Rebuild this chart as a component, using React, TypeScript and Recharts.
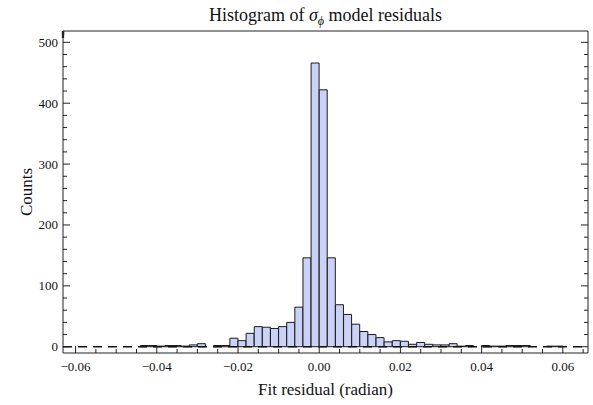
import React from "react";
import { BarChart, Bar, XAxis, YAxis, ReferenceLine } from "recharts";

// bin centers (bin width 0.002) and counts
const BIN_CENTERS = [
  -0.043, -0.041, -0.039, -0.037, -0.035, -0.033, -0.031, -0.029, -0.027, -0.025,
  -0.023, -0.021, -0.019, -0.017, -0.015, -0.013, -0.011, -0.009, -0.007, -0.005,
  -0.003, -0.001, 0.001, 0.003, 0.005, 0.007, 0.009, 0.011, 0.013, 0.015,
  0.017, 0.019, 0.021, 0.023, 0.025, 0.027, 0.029, 0.031, 0.033, 0.035,
  0.037, 0.039, 0.041, 0.043, 0.045, 0.047, 0.049, 0.051, 0.053, 0.055,
  0.057, 0.059,
];
const COUNTS = [
  2, 2, 1, 2, 2, 1, 3, 5, 0, 2,
  2, 14, 10, 22, 33, 32, 30, 33, 40, 65,
  146, 466, 422, 146, 69, 53, 37, 25, 20, 15,
  8, 10, 9, 4, 7, 4, 3, 3, 5, 1,
  2, 0, 2, 1, 1, 2, 2, 2, 0, 0,
  1, 1,
];

const X_MAJOR = [-0.06, -0.04, -0.02, 0, 0.02, 0.04, 0.06];
const X_MINOR = [
  -0.06, -0.055, -0.05, -0.045, -0.04, -0.035, -0.03, -0.025, -0.02, -0.015, -0.01, -0.005,
  0, 0.005, 0.01, 0.015, 0.02, 0.025, 0.03, 0.035, 0.04, 0.045, 0.05, 0.055, 0.06, 0.065,
];
const Y_MAJOR = [0, 100, 200, 300, 400, 500];
const Y_MINOR = [
  0, 20, 40, 60, 80, 100, 120, 140, 160, 180, 200, 220, 240, 260, 280, 300,
  320, 340, 360, 380, 400, 420, 440, 460, 480, 500,
];

const X_DOMAIN = [-0.0631, 0.0662];
const Y_DOMAIN = [-10.3, 518.6];

const SERIF = "'Liberation Serif', 'Times New Roman', serif";
const FRAME = "#222";
const TEXT = "#111";
const BAR_FILL = "#cbd2f7";
const BAR_EDGE = "#1c1c1c";

const data = BIN_CENTERS.map((x, i) => ({ x, count: COUNTS[i] }));

const isMajorX = (v: number) => X_MAJOR.some((m) => Math.abs(m - v) < 1e-9);
const isMajorY = (v: number) => Y_MAJOR.includes(v);
const fmtX = (v: number) =>
  Math.abs(v) < 1e-9 ? "0.00" : (v < 0 ? "\u2212" : "") + Math.abs(v).toFixed(2);

// inward frame ticks, Mathematica style
const BottomTick = (props: any) => {
  const { x, y, payload } = props;
  const major = isMajorX(payload.value);
  return (
    <g>
      <line x1={x} y1={y} x2={x} y2={y - (major ? 7 : 4)} stroke={FRAME} />
      {major && (
        <text x={x} y={y + 18} textAnchor="middle" fontSize={13} fontFamily={SERIF} fill={TEXT}>
          {fmtX(payload.value)}
        </text>
      )}
    </g>
  );
};

const TopTick = (props: any) => {
  const { x, y, payload } = props;
  const major = isMajorX(payload.value);
  return <line x1={x} y1={y} x2={x} y2={y + (major ? 7 : 4)} stroke={FRAME} />;
};

const LeftTick = (props: any) => {
  const { x, y, payload } = props;
  const major = isMajorY(payload.value);
  return (
    <g>
      <line x1={x} y1={y} x2={x + (major ? 7 : 4)} y2={y} stroke={FRAME} />
      {major && (
        <text x={x - 5} y={y + 4.5} textAnchor="end" fontSize={13} fontFamily={SERIF} fill={TEXT}>
          {payload.value}
        </text>
      )}
    </g>
  );
};

const RightTick = (props: any) => {
  const { x, y, payload } = props;
  const major = isMajorY(payload.value);
  return <line x1={x} y1={y} x2={x - (major ? 7 : 4)} y2={y} stroke={FRAME} />;
};

const Title = (props: any) => {
  const { x, width } = props.viewBox;
  return (
    <text x={x + width / 2} y={21} textAnchor="middle" fontSize={18} fontFamily={SERIF} fill={TEXT}>
      Histogram of <tspan fontStyle="italic">σ</tspan>
      <tspan fontStyle="italic" fontSize={12} dy={4}>ϕ</tspan>
      <tspan dy={-4}> model residuals</tspan>
    </text>
  );
};

const YLabel = (props: any) => {
  const { x, y, height } = props.viewBox;
  const cx = x + 26;
  const cy = y + height / 2;
  return (
    <text
      x={cx}
      y={cy}
      transform={`rotate(-90 ${cx} ${cy})`}
      textAnchor="middle"
      dominantBaseline="central"
      fontSize={17}
      fontFamily={SERIF}
      fill={TEXT}
    >
      Counts
    </text>
  );
};

export default function App() {
  return (
    <div
      style={{
        position: "absolute",
        left: 0,
        top: 0,
        width: 593,
        height: 405,
        background: "#fff",
        fontFamily: SERIF,
      }}
    >
      <BarChart
        width={593}
        height={405}
        data={data}
        margin={{ top: 0, right: 0, bottom: 0, left: 0 }}
        barCategoryGap={0}
        barGap={0}
      >
        <XAxis
          xAxisId="x"
          dataKey="x"
          type="number"
          domain={X_DOMAIN}
          allowDataOverflow
          ticks={X_MINOR}
          interval={0}
          tick={BottomTick}
          tickLine={false}
          tickSize={0}
          tickMargin={0}
          axisLine={{ stroke: FRAME }}
          height={52}
          label={{
            value: "Fit residual (radian)",
            position: "insideBottom",
            offset: 10,
            fontSize: 17,
            fontFamily: SERIF,
            fill: TEXT,
          }}
        />
        <XAxis
          xAxisId="xt"
          orientation="top"
          type="number"
          domain={X_DOMAIN}
          allowDataOverflow
          ticks={X_MINOR}
          interval={0}
          tick={TopTick}
          tickLine={false}
          tickSize={0}
          tickMargin={0}
          axisLine={{ stroke: FRAME }}
          height={31}
          label={Title}
        />
        <YAxis
          yAxisId="y"
          type="number"
          domain={Y_DOMAIN}
          allowDataOverflow
          ticks={Y_MINOR}
          interval={0}
          tick={LeftTick}
          tickLine={false}
          tickSize={0}
          tickMargin={0}
          axisLine={{ stroke: FRAME }}
          width={63}
          label={YLabel}
        />
        <YAxis
          yAxisId="yr"
          orientation="right"
          type="number"
          domain={Y_DOMAIN}
          allowDataOverflow
          ticks={Y_MINOR}
          interval={0}
          tick={RightTick}
          tickLine={false}
          tickSize={0}
          tickMargin={0}
          axisLine={{ stroke: FRAME }}
          width={5}
        />
        <ReferenceLine
          xAxisId="x"
          yAxisId="y"
          y={0}
          stroke={TEXT}
          strokeWidth={1.5}
          strokeDasharray="9 6"
        />
        <Bar
          xAxisId="x"
          yAxisId="y"
          dataKey="count"
          fill={BAR_FILL}
          stroke={BAR_EDGE}
          strokeWidth={1}
          isAnimationActive={false}
        />
      </BarChart>
    </div>
  );
}
